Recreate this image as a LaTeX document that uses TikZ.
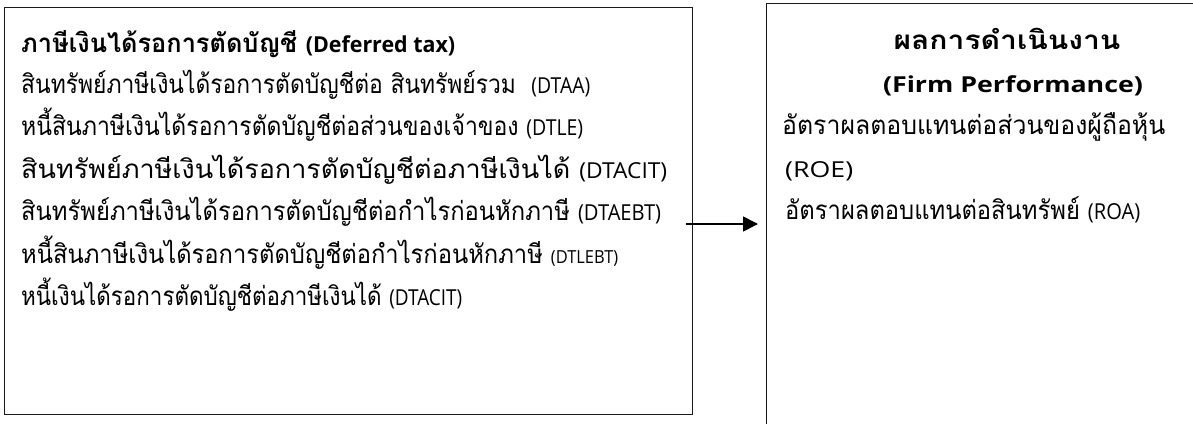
\documentclass[tikz,border=0pt]{standalone}
\usepackage{fontspec}
\usepackage{graphicx}
\usetikzlibrary{arrows.meta}
\setmainfont{Open Sans}
\newfontfamily\thfont[Script=Thai]{Loma}
\newfontfamily\latf{Open Sans}
\newsavebox\fitbox
\newlength\fitlen
\newcommand\fitw[2]{\sbox\fitbox{#2}\setlength\fitlen{\wd\fitbox}\pgfmathsetmacro\fitratio{#1/\fitlen}\scalebox{\fitratio}[1]{\usebox\fitbox}}
\newcommand\lt[1]{{\latf\fontsize{22}{26}\selectfont #1}}
\begin{document}
\begin{tikzpicture}[x=1pt,y=-1pt,
  box/.style={draw=black!90,line width=1.3pt,inner sep=0pt,fill=none},
  txt/.style={inner sep=0pt,anchor=base west,font=\fontsize{26}{30}\selectfont\thfont},
  ctxt/.style={inner sep=0pt,anchor=base,font=\fontsize{26}{30}\selectfont\thfont},
  conn/.style={line width=1.6pt,-{Triangle[length=15pt,width=15pt]}}]
\useasboundingbox (0,0) rectangle (1193,423);
\fill[white] (0,0) rectangle (1193,423);
\clip (0,0) rectangle (1193,423);
\node[box,minimum width=688pt,minimum height=407pt,anchor=north west] (dt) at (4,7) {};
\node[box,minimum width=520pt,minimum height=480pt,anchor=north west] (fp) at (766,3) {};
% left texts
\node[txt] (t0) at (21,52) {\fitw{434}{\bfseries ภาษีเงินได้รอการตัดบัญชี \lt{\bfseries (Deferred tax)}}};
\node[txt] (t1) at (21,93) {\fitw{569}{สินทรัพย์ภาษีเงินได้รอการตัดบัญชีต่อ สินทรัพย์รวม\ \ \lt{(DTAA)}}};
\node[txt] (t2) at (21,135) {\fitw{562}{หนี้สินภาษีเงินได้รอการตัดบัญชีต่อส่วนของเจ้าของ \lt{(DTLE)}}};
\node[txt] (t3) at (21,178) {\fitw{646}{สินทรัพย์ภาษีเงินได้รอการตัดบัญชีต่อภาษีเงินได้ \lt{(DTACIT)}}};
\node[txt] (t4) at (21,220) {\fitw{640}{สินทรัพย์ภาษีเงินได้รอการตัดบัญชีต่อกำไรก่อนหักภาษี \lt{(DTAEBT)}}};
\node[txt] (t5) at (21,263) {\fitw{597}{หนี้สินภาษีเงินได้รอการตัดบัญชีต่อกำไรก่อนหักภาษี {\latf\fontsize{18}{21}\selectfont (DTLEBT)}}};
\node[txt] (t6) at (21,305) {\fitw{441}{หนี้เงินได้รอการตัดบัญชีต่อภาษีเงินได้ \lt{(DTACIT)}}};
% right texts
\node[ctxt] (r0) at (1007,49) {\fitw{227}{\bfseries ผลการดำเนินงาน}};
\node[ctxt] (r1) at (1013,92) {\fitw{260}{\lt{\bfseries (Firm Performance)}}};
\node[txt] (r2) at (782,134) {\fitw{383}{อัตราผลตอบแทนต่อส่วนของผู้ถือหุ้น}};
\node[txt] (r3) at (785,177) {\fitw{68}{\lt{(ROE)}}};
\node[txt] (r4) at (785,219) {\fitw{355}{อัตราผลตอบแทนต่อสินทรัพย์ \lt{(ROA)}}};
% arrow
\coordinate (as) at (686,224);
\draw[conn,shorten >=8pt] (as) -- (as -| fp.west);
\end{tikzpicture}
\end{document}
